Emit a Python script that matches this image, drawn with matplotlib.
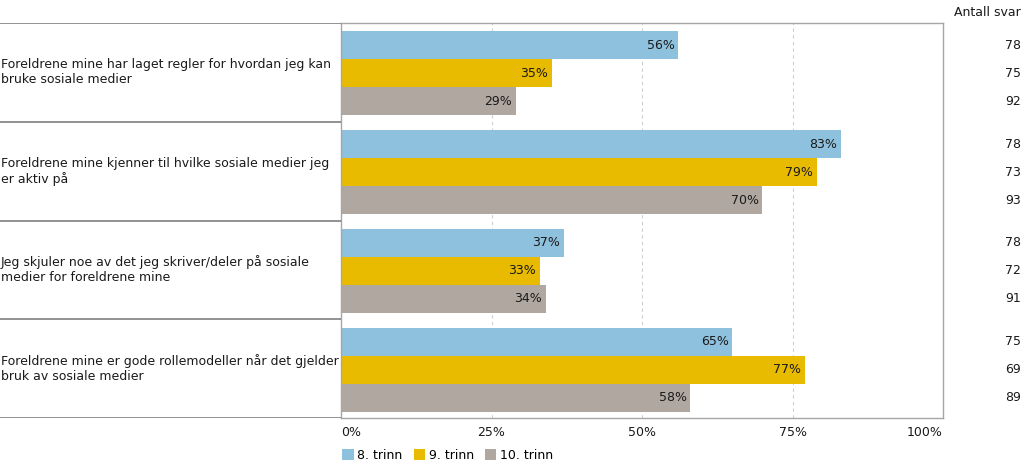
import matplotlib
matplotlib.use("Agg")
import matplotlib.pyplot as plt
from matplotlib.patches import Patch
import matplotlib.transforms as mtransforms

plt.rcParams['font.family'] = ['DejaVu Sans']

# data
statements = [
    "Foreldrene mine har laget regler for hvordan jeg kan\nbruke sosiale medier",
    "Foreldrene mine kjenner til hvilke sosiale medier jeg\ner aktiv på",
    "Jeg skjuler noe av det jeg skriver/deler på sosiale\nmedier for foreldrene mine",
    "Foreldrene mine er gode rollemodeller når det gjelder\nbruk av sosiale medier",
]
series_names = ["8. trinn", "9. trinn", "10. trinn"]
trinn8 = [56, 83, 37, 65]
trinn9 = [35, 79, 33, 77]
trinn10 = [29, 70, 34, 58]
antall8 = [78, 78, 78, 75]
antall9 = [75, 73, 72, 69]
antall10 = [92, 93, 91, 89]
xticks = [0, 25, 50, 75, 100]
xticklabels = ["0%", "25%", "50%", "75%", "100%"]

colors = ["#8ec1de", "#e8bb00", "#b0a8a0"]

W, H = 1024, 463
fig = plt.figure(figsize=(W / 100, H / 100), dpi=100)

left, right, top, bottom = 341, 943, 23, 418
ax = fig.add_axes([left / W, 1 - bottom / H, (right - left) / W, (bottom - top) / H])
lab = fig.add_axes([0, 1 - bottom / H, left / W, (bottom - top) / H])

bh = 0.284
offsets = [-bh + 0.01, 0.01, bh + 0.01]
all_series = [trinn8, trinn9, trinn10]
all_counts = [antall8, antall9, antall10]

ax.set_xlim(0, 100)
ax.set_ylim(len(statements) - 0.5, -0.5)
for k in [25, 50, 75]:
    ax.axvline(k, color="#cfcfcf", lw=0.8, ls=(0, (3, 3)), zorder=0)

trans = mtransforms.blended_transform_factory(fig.transFigure, ax.transData)
for s, vals in enumerate(all_series):
    ys = [i + offsets[s] for i in range(len(vals))]
    ax.barh(ys, vals, height=bh, color=colors[s], zorder=2)
    for y, v in zip(ys, vals):
        ax.text(v - 0.6, y, f"{v}%", ha="right", va="center", fontsize=9, color="#1a1a1a", zorder=3)
    for y, c in zip(ys, all_counts[s]):
        ax.text(1021 / W, y, str(c), transform=trans, ha="right", va="center", fontsize=9, color="#1a1a1a")

fig.text(1021 / W, 1 - 13 / H, "Antall svar", ha="right", va="center", fontsize=9, color="#1a1a1a")

ax.set_yticks([])
ax.set_xticks(xticks)
ax.set_xticklabels(xticklabels, fontsize=9, color="#1a1a1a")
for t, ha in zip(ax.get_xticklabels(), ["left", "center", "center", "center", "right"]):
    t.set_ha(ha)
ax.tick_params(axis="x", length=0, pad=6)
for sp in ax.spines.values():
    sp.set_color("#a6a6a6")
    sp.set_linewidth(1)

# label panel
lab.set_xlim(0, 1)
lab.set_ylim(len(statements) - 0.5, -0.5)
lab.axis("off")
for b in [i - 0.5 for i in range(len(statements) + 1)]:
    lab.axhline(b, color="#7f7f7f", lw=1.2)
for i, txt in enumerate(statements):
    lab.text(0.003, i, txt, ha="left", va="center", fontsize=9, color="#1a1a1a", linespacing=1.2)

handles = [Patch(facecolor=c, edgecolor="none") for c in colors]
fig.legend(handles, series_names, loc="lower left", bbox_to_anchor=(331 / W, -0.022), ncol=3,
           frameon=False, fontsize=9, handlelength=0.9, handleheight=0.9, handletextpad=0.3,
           columnspacing=0.9)

fig.savefig("out.png", dpi=100)
